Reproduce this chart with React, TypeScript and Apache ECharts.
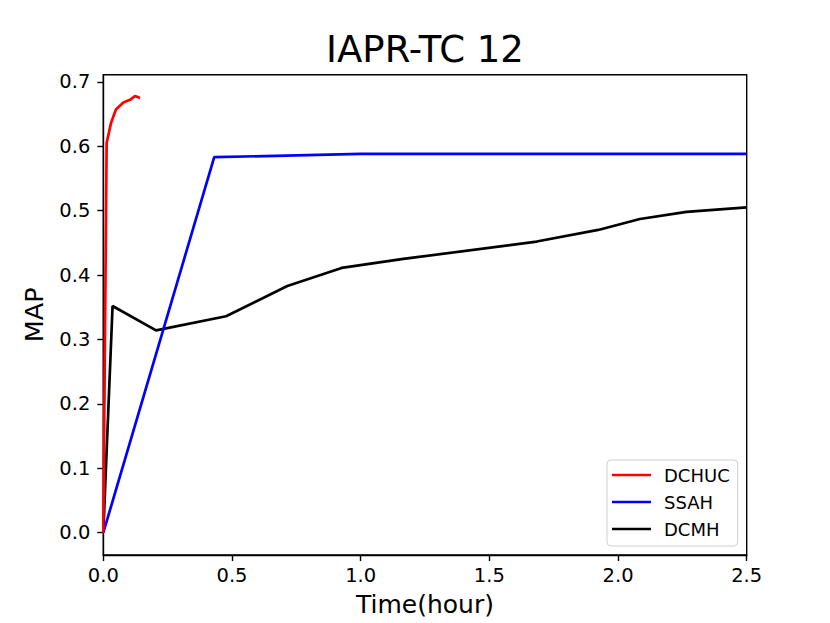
import React, { useEffect, useRef } from "react";
import * as echarts from "echarts";

const title = "IAPR-TC 12";
const xName = "Time(hour)";
const yName = "MAP";
const seriesNames = ["DCHUC", "SSAH", "DCMH"];
const colors = ["#ff0000", "#0000ff", "#000000"];

const dchucX = [0, 0.013, 0.03, 0.049, 0.078, 0.104, 0.123, 0.143];
const dchucY = [0, 0.605, 0.636, 0.657, 0.668, 0.672, 0.678, 0.675];

const ssahX = [0, 0.431, 1.0, 2.5];
const ssahY = [0, 0.583, 0.588, 0.588];

const dcmhX = [0, 0.036, 0.205, 0.477, 0.715, 0.926, 1.166, 1.684, 1.923, 2.085, 2.266, 2.5];
const dcmhY = [0, 0.352, 0.314, 0.336, 0.383, 0.411, 0.425, 0.452, 0.47, 0.487, 0.498, 0.505];

const yTicks = [0, 0.1, 0.2, 0.3, 0.4, 0.5, 0.6, 0.7];
const xTicks = [0, 0.5, 1.0, 1.5, 2.0, 2.5];

const zip = (xs: number[], ys: number[]) => xs.map((x, i) => [x, ys[i]]);

export default function App() {
  const ref = useRef<HTMLDivElement>(null);
  useEffect(() => {
    if (!ref.current) return;
    const chart = echarts.init(ref.current, null, { renderer: "svg" });
    const font = "DejaVu Sans";
    const datas = [zip(dchucX, dchucY), zip(ssahX, ssahY), zip(dcmhX, dcmhY)];
    chart.setOption({
      animation: false,
      backgroundColor: "#ffffff",
      graphic: [
        {
          type: "text",
          x: 425,
          y: 31,
          style: {
            text: title,
            textAlign: "center",
            textVerticalAlign: "top",
            fontFamily: font,
            fontSize: 37,
            fill: "#000",
          },
        },
      ],
      grid: {
        left: 103.3,
        right: 83.3,
        top: 74.7,
        bottom: 68,
        show: true,
        borderColor: "#000",
        borderWidth: 1.4,
        backgroundColor: "transparent",
      },
      legend: {
        orient: "vertical",
        left: 607,
        top: 460,
        data: seriesNames,
        icon: "rect",
        itemWidth: 39,
        itemHeight: 2.6,
        itemGap: 9,
        padding: [6, 8, 8, 5],
        borderColor: "#d0d0d0",
        borderWidth: 1,
        borderRadius: 4,
        backgroundColor: "rgba(255,255,255,0.8)",
        textStyle: { fontFamily: font, fontSize: 18, color: "#000", padding: [0, 0, 0, 8] },
      },
      xAxis: {
        type: "value",
        min: 0,
        max: 2.5,
        interval: 0.5,
        name: xName,
        nameLocation: "middle",
        nameGap: 37,
        nameTextStyle: { fontFamily: font, fontSize: 25, color: "#000" },
        axisLine: { show: true, onZero: false, lineStyle: { color: "#000", width: 1.4 } },
        axisTick: { show: true, length: 6, lineStyle: { color: "#000", width: 1.4 }, customValues: xTicks },
        axisLabel: {
          fontFamily: font,
          fontSize: 19.5,
          color: "#000",
          margin: 10,
          customValues: xTicks,
          formatter: (v: number) => v.toFixed(1),
        },
        splitLine: { show: false },
      },
      yAxis: {
        type: "value",
        min: -0.0346,
        max: 0.711,
        name: yName,
        nameLocation: "middle",
        nameGap: 56,
        nameTextStyle: { fontFamily: font, fontSize: 25.5, color: "#000" },
        axisLine: { show: true, onZero: false, lineStyle: { color: "#000", width: 1.4 } },
        axisTick: { show: true, length: 6, lineStyle: { color: "#000", width: 1.4 }, customValues: yTicks },
        axisLabel: {
          fontFamily: font,
          fontSize: 19.5,
          color: "#000",
          margin: 13,
          customValues: yTicks,
          formatter: (v: number) => v.toFixed(1),
        },
        splitLine: { show: false },
      },
      series: seriesNames.map((name, i) => ({
        name,
        type: "line",
        data: datas[i],
        showSymbol: false,
        symbol: "none",
        clip: true,
        lineStyle: { color: colors[i], width: 2.7 },
        itemStyle: { color: colors[i] },
        z: 3 - i,
      })),
    });
    return () => chart.dispose();
  }, []);
  return (
    <div
      ref={ref}
      style={{ position: "absolute", left: 0, top: 0, width: 830, height: 623 }}
    />
  );
}
